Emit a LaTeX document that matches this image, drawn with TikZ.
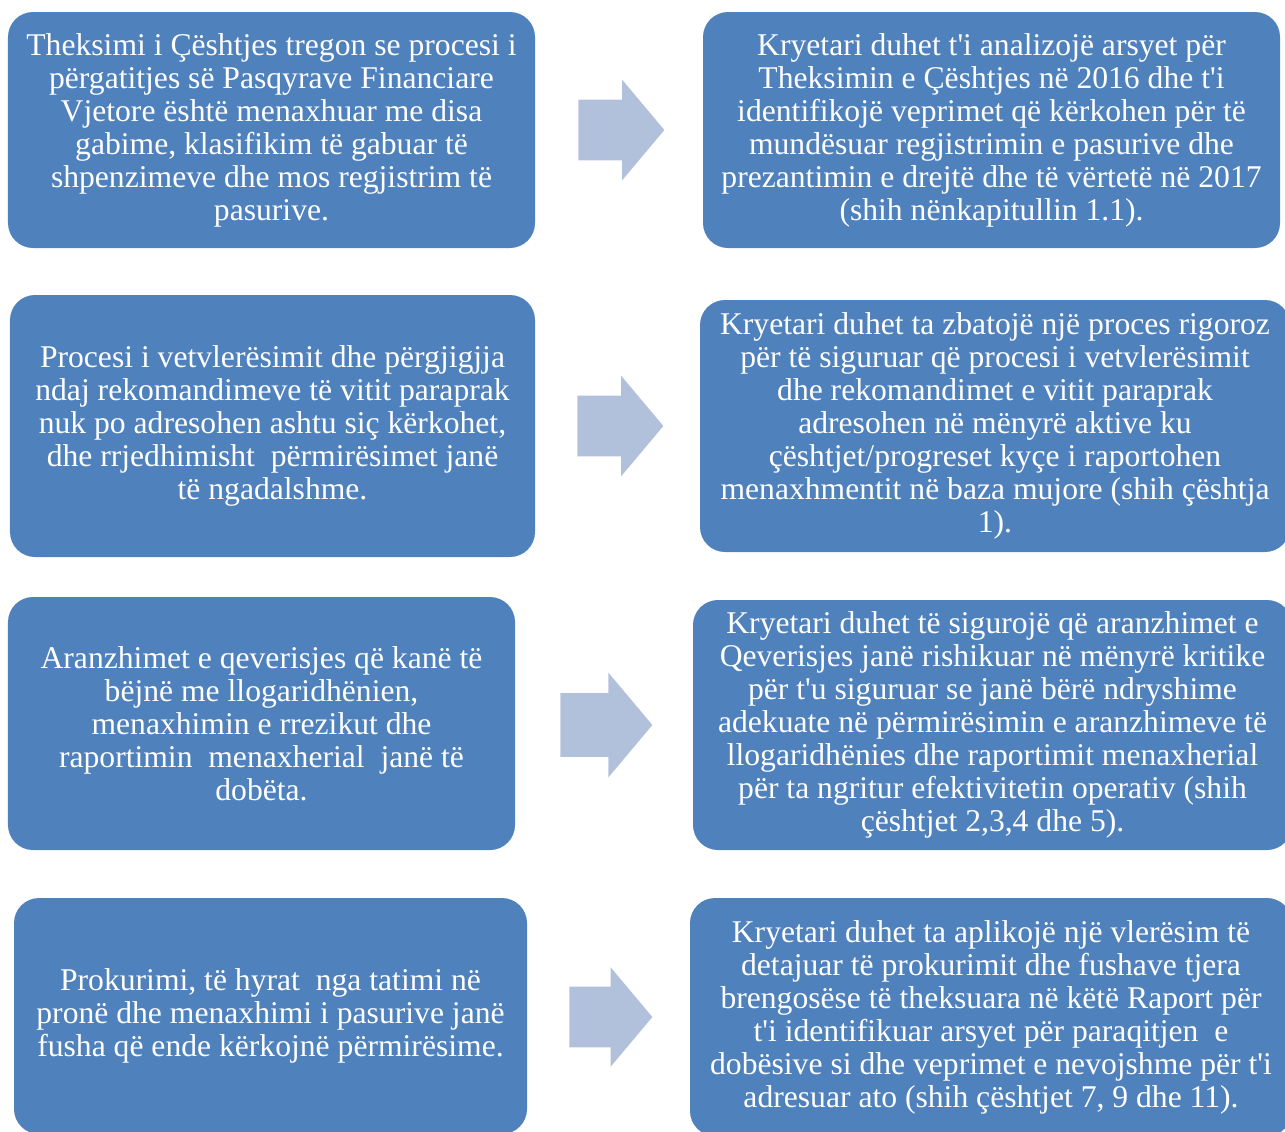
\documentclass[tikz,border=0pt]{standalone}
\usepackage{fontspec}
\setmainfont{Liberation Serif}
\usepackage{tikz}
\usetikzlibrary{shapes.arrows}
\definecolor{boxblue}{HTML}{4F81BD}
\definecolor{arrowblue}{HTML}{B2C1DB}
\tikzset{
  panel/.style={fill=boxblue,rounded corners=0.5cm,text=white,align=center,inner sep=0pt,
    font=\fontsize{18}{18.8}\selectfont},
  blockarrow/.style={single arrow,fill=arrowblue,draw=none,inner xsep=0pt,inner ysep=0.6cm,
    minimum height=1.72cm,single arrow head extend=0.4cm,
    single arrow tip angle=100,anchor=west}
}

\begin{document}
\begin{tikzpicture}
  \useasboundingbox (0,0) rectangle (25.7,-22.62);
  \clip (0,0) rectangle (25.7,-22.62);
  % findings (left column)
  \node[panel,minimum width=10.54cm,minimum height=4.72cm] (f1) at (5.43,-2.60) {Theksimi i Çështjes tregon se procesi i\\përgatitjes së Pasqyrave Financiare\\Vjetore është menaxhuar me disa\\gabime, klasifikim të gabuar të\\shpenzimeve dhe mos regjistrim të\\pasurive.};
  \node[panel,minimum width=10.5cm,minimum height=5.24cm] (f2) at (5.45,-8.52) {Procesi i vetvlerësimit dhe përgjigjja\\ndaj rekomandimeve të vitit paraprak\\nuk po adresohen ashtu siç kërkohet,\\dhe rrjedhimisht\ \ përmirësimet janë\\të ngadalshme.};
  \node[panel,minimum width=10.14cm,minimum height=5.06cm] (f3) at (5.23,-14.47) {Aranzhimet e qeverisjes që kanë të\\bëjnë me llogaridhënien,\\menaxhimin e rrezikut dhe\\raportimin\ \ menaxherial\ \ janë të\\dobëta.};
  \node[panel,minimum width=10.26cm,minimum height=4.72cm] (f4) at (5.41,-20.32) {Prokurimi, të hyrat\ \ nga tatimi në\\pronë dhe menaxhimi i pasurive janë\\fusha që ende kërkojnë përmirësime.};
  % recommendations (right column)
  \node[panel,minimum width=11.54cm,minimum height=4.72cm] (r1) at (19.83,-2.60) {Kryetari duhet t\textquotesingle i analizojë arsyet për\\Theksimin e Çështjes në 2016 dhe t\textquotesingle i\\identifikojë veprimet që kërkohen për të\\mundësuar regjistrimin e pasurive dhe\\prezantimin e drejtë dhe të vërtetë në 2017\\(shih nënkapitullin 1.1).};
  \node[panel,minimum width=11.8cm,minimum height=5.04cm] (r2) at (19.9,-8.52) {Kryetari duhet ta zbatojë një proces rigoroz\\për të siguruar që procesi i vetvlerësimit\\dhe rekomandimet e vitit paraprak\\adresohen në mënyrë aktive ku\\çështjet/progreset kyçe i raportohen\\menaxhmentit në baza mujore (shih çështja\\1).};
  \node[panel,minimum width=11.98cm,minimum height=5cm] (r3) at (19.85,-14.5) {Kryetari duhet të sigurojë që aranzhimet e\\Qeverisjes janë rishikuar në mënyrë kritike\\për t\textquotesingle u siguruar se janë bërë ndryshime\\adekuate në përmirësimin e aranzhimeve të\\llogaridhënies dhe raportimit menaxherial\\për ta ngritur efektivitetin operativ (shih\\çështjet 2,3,4 dhe 5).};
  \node[panel,minimum width=12.04cm,minimum height=4.76cm] (r4) at (19.82,-20.34) {Kryetari duhet ta aplikojë një vlerësim të\\detajuar të prokurimit dhe fushave tjera\\brengosëse të theksuara në këtë Raport për\\t\textquotesingle i identifikuar arsyet për paraqitjen\ \ e\\dobësive si dhe veprimet e nevojshme për t\textquotesingle i\\adresuar ato (shih çështjet 7, 9 dhe 11).};
  % block arrows
  \node[blockarrow] (a1) at (11.56,-2.60) {};
  \node[blockarrow] (a2) at (11.54,-8.52) {};
  \node[blockarrow,minimum height=1.84cm,inner ysep=0.63cm,single arrow head extend=0.41cm] (a3) at (11.20,-14.5) {};
  \node[blockarrow,minimum height=1.66cm,single arrow head extend=0.39cm] (a4) at (11.38,-20.34) {};
\end{tikzpicture}
\end{document}
